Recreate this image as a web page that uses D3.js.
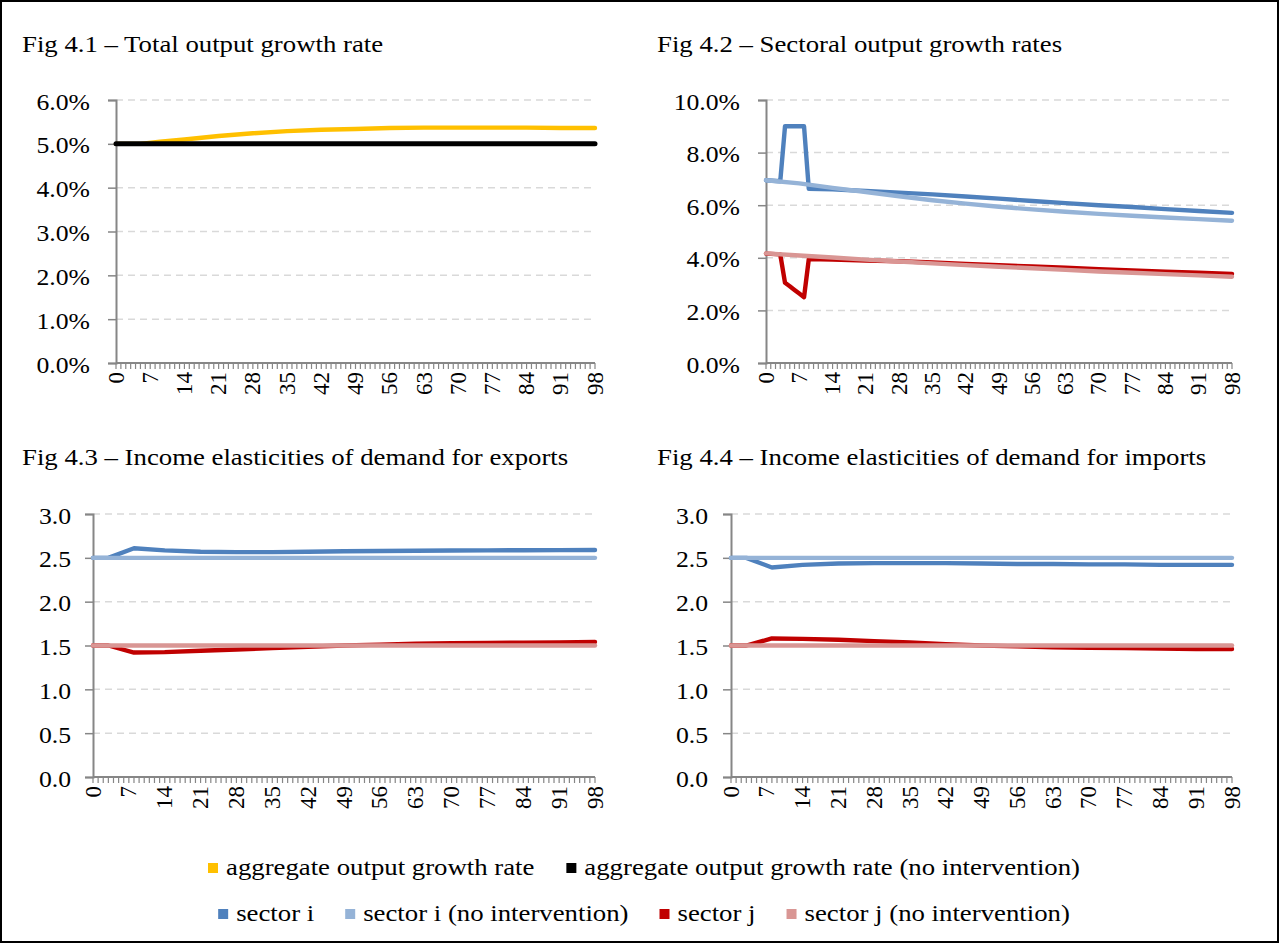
<!DOCTYPE html>
<html>
<head>
<meta charset="utf-8">
<script src="https://cdn.jsdelivr.net/npm/d3@7"></script>
<style>
  body { margin: 0; background: #fff; }
  svg text { font-family: "Liberation Serif", "Times New Roman", serif; fill: #000; }
</style>
</head>
<body>
<svg id="chart" width="1279" height="943"></svg>
<script>
// category labels on every x axis
var tickLabels = [0, 7, 14, 21, 28, 35, 42, 49, 56, 63, 70, 77, 84, 91, 98];

// Fig 4.1 - total output growth rate (%)
var aggT = [0, 5, 9, 14, 21, 28, 35, 42, 49, 56, 63, 70, 77, 84, 91, 98];
var aggRate = [5.00, 5.00, 5.05, 5.10, 5.18, 5.24, 5.29, 5.32, 5.34, 5.36, 5.37, 5.37, 5.37, 5.37, 5.36, 5.36];
var aggRateNoInt = [5.0, 5.0, 5.0, 5.0, 5.0, 5.0, 5.0, 5.0, 5.0, 5.0, 5.0, 5.0, 5.0, 5.0, 5.0];

// Fig 4.2 - sectoral output growth rates (%)
var sectT = [0, 3, 4, 5, 6, 7, 8, 9, 14, 21, 28, 35, 42, 49, 56, 63, 70, 77, 84, 91, 98];
var growthI = [6.95, 6.91, 9.00, 9.00, 9.00, 9.00, 9.00, 6.62, 6.60, 6.54, 6.48, 6.41, 6.33, 6.25, 6.16, 6.08, 6.00, 5.93, 5.85, 5.78, 5.71];
var growthINoInt = [6.95, 6.83, 6.66, 6.50, 6.34, 6.19, 6.06, 5.94, 5.84, 5.75, 5.67, 5.60, 5.53, 5.47, 5.41];
var growthJ = [4.16, 4.13, 3.05, 2.92, 2.78, 2.64, 2.50, 3.95, 3.93, 3.90, 3.87, 3.82, 3.77, 3.72, 3.67, 3.62, 3.57, 3.52, 3.47, 3.43, 3.39];
var growthJNoInt = [4.17, 4.09, 4.01, 3.93, 3.86, 3.79, 3.72, 3.66, 3.60, 3.54, 3.48, 3.43, 3.38, 3.33, 3.28];

// Fig 4.3 / 4.4 - income elasticities
var elastT = [0, 3, 8, 14, 21, 28, 35, 42, 49, 56, 63, 70, 77, 84, 91, 98];
var expI = [2.50, 2.50, 2.61, 2.585, 2.57, 2.565, 2.565, 2.57, 2.575, 2.578, 2.58, 2.583, 2.585, 2.587, 2.588, 2.59];
var expINoInt = [2.5, 2.5, 2.5, 2.5, 2.5, 2.5, 2.5, 2.5, 2.5, 2.5, 2.5, 2.5, 2.5, 2.5, 2.5];
var expJ = [1.50, 1.50, 1.42, 1.425, 1.44, 1.455, 1.47, 1.485, 1.50, 1.51, 1.52, 1.525, 1.53, 1.533, 1.535, 1.54];
var expJNoInt = [1.5, 1.5, 1.5, 1.5, 1.5, 1.5, 1.5, 1.5, 1.5, 1.5, 1.5, 1.5, 1.5, 1.5, 1.5];
var impI = [2.50, 2.50, 2.39, 2.42, 2.435, 2.44, 2.44, 2.44, 2.435, 2.43, 2.43, 2.425, 2.425, 2.42, 2.42, 2.42];
var impINoInt = [2.5, 2.5, 2.5, 2.5, 2.5, 2.5, 2.5, 2.5, 2.5, 2.5, 2.5, 2.5, 2.5, 2.5, 2.5];
var impJ = [1.50, 1.50, 1.58, 1.575, 1.565, 1.55, 1.535, 1.515, 1.50, 1.49, 1.48, 1.475, 1.47, 1.465, 1.46, 1.46];
var impJNoInt = [1.5, 1.5, 1.5, 1.5, 1.5, 1.5, 1.5, 1.5, 1.5, 1.5, 1.5, 1.5, 1.5, 1.5, 1.5];

var legendRow1 = ["aggregate output growth rate", "aggregate output growth rate (no intervention)"];
var legendRow2 = ["sector i", "sector i (no intervention)", "sector j", "sector j (no intervention)"];

var colors = {
  agg: "#FFC000", aggNo: "#000000",
  i: "#4F81BD", iNo: "#95B3D7", j: "#C00000", jNo: "#D99694"
};

var FONT = 24;
var STRETCH = 1.07; // text in the picture is drawn a little wider than normal

var svg = d3.select("#chart");

// stretch a text element horizontally
function widen(sel, k) {
  sel.each(function() {
    var w = this.getComputedTextLength();
    d3.select(this).attr("textLength", w * (k || STRETCH)).attr("lengthAdjust", "spacingAndGlyphs");
  });
}

svg.append("rect")
  .attr("x", 1).attr("y", 1).attr("width", 1277).attr("height", 941)
  .attr("fill", "#fff").attr("stroke", "#000").attr("stroke-width", 2);

function drawPanel(cfg) {
  var x = d3.scaleLinear().domain([0, 98]).range([cfg.left, cfg.right]);
  var y = d3.scaleLinear().domain([0, cfg.yMax]).range([cfg.bottom, cfg.top]);
  var yTicks = d3.range(0, cfg.yMax + cfg.yStep / 2, cfg.yStep);
  var g = svg.append("g");

  // title
  g.append("text")
    .attr("x", cfg.titleX).attr("y", cfg.titleY)
    .style("font-size", FONT + "px")
    .text(cfg.title)
    .call(widen, 1.115);

  // dashed gridlines
  g.selectAll(".grid").data(yTicks.slice(1)).enter().append("line")
    .attr("x1", cfg.left).attr("x2", cfg.right)
    .attr("y1", function(d) { return y(d); }).attr("y2", function(d) { return y(d); })
    .attr("stroke", "#d9d9d9").attr("stroke-width", 1.5)
    .attr("stroke-dasharray", "7,5");

  // y axis
  var yAxis = d3.axisLeft(y).tickValues(yTicks).tickSize(8).tickPadding(cfg.labelGap)
    .tickFormat(cfg.yFormat);
  var ya = g.append("g").attr("transform", "translate(" + cfg.left + ",0)").call(yAxis);
  ya.attr("font-family", null);
  ya.select(".domain").attr("stroke", "#868686").attr("stroke-width", 2);
  ya.selectAll(".tick line").attr("stroke", "#868686").attr("stroke-width", 1.5);
  ya.selectAll(".tick text")
    .style("font-size", FONT + "px")
    .attr("fill", "#000")
    .attr("dy", "0.38em")
    .call(widen);

  // x axis: small tick at every period, labels every 7
  var xa = g.append("g").attr("transform", "translate(0," + cfg.bottom + ")");
  xa.append("line").attr("x1", cfg.left).attr("x2", cfg.right)
    .attr("stroke", "#868686").attr("stroke-width", 2);
  xa.selectAll(".mt").data(d3.range(0, 99)).enter().append("line")
    .attr("x1", function(d) { return x(d); }).attr("x2", function(d) { return x(d); })
    .attr("y1", 0).attr("y2", 6)
    .attr("stroke", "#868686").attr("stroke-width", 1.2);
  xa.selectAll(".xl").data(tickLabels).enter().append("text")
    .attr("transform", function(d) { return "translate(" + x(d) + ",9) rotate(-90)"; })
    .attr("text-anchor", "end")
    .attr("dy", "0.33em")
    .style("font-size", "23px")
    .text(function(d) { return d; });

  // series lines
  var line = d3.line()
    .x(function(d) { return x(d[0]); })
    .y(function(d) { return y(d[1]); });
  cfg.series.forEach(function(s) {
    var pts = s.t.map(function(t, k) { return [t, s.v[k]]; });
    g.append("path")
      .datum(pts)
      .attr("d", line)
      .attr("fill", "none")
      .attr("stroke", s.color)
      .attr("stroke-width", s.width || 4.4)
      .attr("stroke-linejoin", "round")
      .attr("stroke-linecap", "round");
  });
}

var pctFmt = function(d) { return d.toFixed(1) + "%"; };
var numFmt = function(d) { return d.toFixed(1); };

drawPanel({
  title: "Fig 4.1 \u2013 Total output growth rate", titleX: 22, titleY: 52,
  left: 116, right: 595, top: 100, bottom: 363, yMax: 6, yStep: 1, yFormat: pctFmt, labelGap: 18,
  series: [
    { t: aggT, v: aggRate, color: colors.agg },
    { t: tickLabels, v: aggRateNoInt, color: colors.aggNo, width: 5 }
  ]
});

drawPanel({
  title: "Fig 4.2 \u2013 Sectoral output growth rates", titleX: 657, titleY: 52,
  left: 766, right: 1232, top: 100, bottom: 363, yMax: 10, yStep: 2, yFormat: pctFmt, labelGap: 18,
  series: [
    { t: sectT, v: growthI, color: colors.i },
    { t: tickLabels, v: growthINoInt, color: colors.iNo },
    { t: sectT, v: growthJ, color: colors.j },
    { t: tickLabels, v: growthJNoInt, color: colors.jNo }
  ]
});

drawPanel({
  title: "Fig 4.3 \u2013 Income elasticities of demand for exports", titleX: 22, titleY: 465,
  left: 93, right: 595, top: 514, bottom: 777, yMax: 3, yStep: 0.5, yFormat: numFmt, labelGap: 14,
  series: [
    { t: elastT, v: expI, color: colors.i },
    { t: tickLabels, v: expINoInt, color: colors.iNo },
    { t: elastT, v: expJ, color: colors.j },
    { t: tickLabels, v: expJNoInt, color: colors.jNo }
  ]
});

drawPanel({
  title: "Fig 4.4 \u2013 Income elasticities of demand for imports", titleX: 657, titleY: 465,
  left: 731, right: 1232, top: 514, bottom: 777, yMax: 3, yStep: 0.5, yFormat: numFmt, labelGap: 15,
  series: [
    { t: elastT, v: impI, color: colors.i },
    { t: tickLabels, v: impINoInt, color: colors.iNo },
    { t: elastT, v: impJ, color: colors.j },
    { t: tickLabels, v: impJNoInt, color: colors.jNo }
  ]
});

// legend, two centred rows
function drawLegendRow(labels, cols, baseY, gap) {
  var row = svg.append("g");
  var items = labels.map(function(lab, k) {
    var it = row.append("g");
    it.append("rect").attr("x", 0).attr("y", baseY - 12).attr("width", 10).attr("height", 10)
      .attr("fill", cols[k]);
    var tx = it.append("text").attr("x", 18).attr("y", baseY)
      .style("font-size", FONT + "px").text(lab).call(widen, 1.115);
    return { g: it, w: 18 + (+tx.attr("textLength")) };
  });
  var total = d3.sum(items, function(d) { return d.w; }) + gap * (items.length - 1);
  var cx = 644 - total / 2;
  items.forEach(function(it) {
    it.g.attr("transform", "translate(" + cx + ",0)");
    cx += it.w + gap;
  });
}

drawLegendRow(legendRow1, [colors.agg, colors.aggNo], 875, 32);
drawLegendRow(legendRow2, [colors.i, colors.iNo, colors.j, colors.jNo], 921, 31);
</script>
</body>
</html>
